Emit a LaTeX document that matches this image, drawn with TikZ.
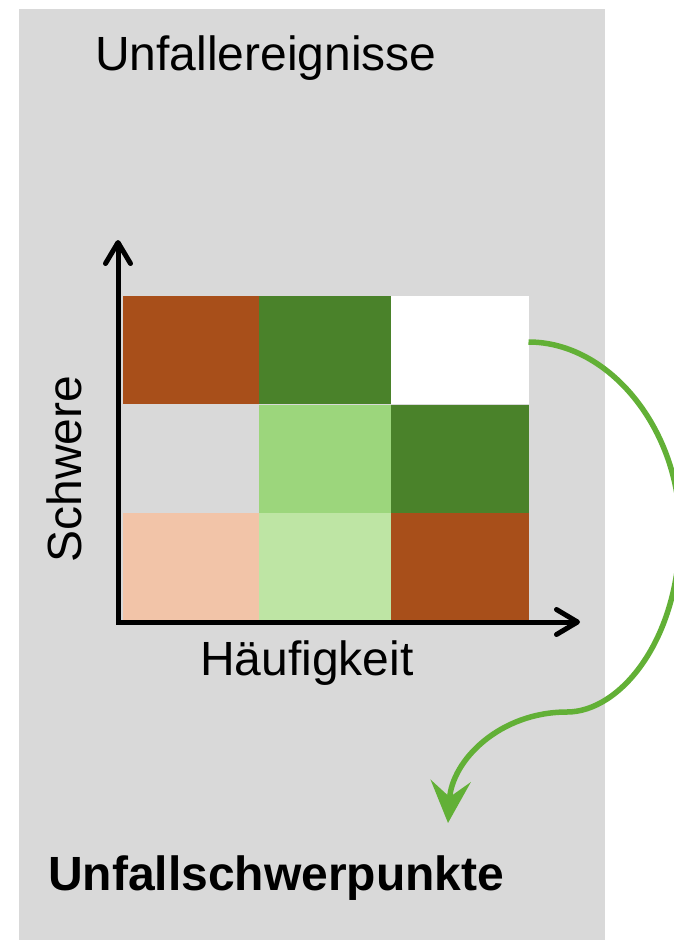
\documentclass[tikz,border=0pt]{standalone}
\usepackage{fontspec}
\setmainfont{Liberation Sans}
\usetikzlibrary{arrows.meta,calc}
\definecolor{panel}{HTML}{D9D9D9}
\definecolor{rust}{HTML}{A84F1A}
\definecolor{darkleaf}{HTML}{4A822A}
\definecolor{midleaf}{HTML}{9CD67C}
\definecolor{paleleaf}{HTML}{BEE5A4}
\definecolor{peach}{HTML}{F2C4A8}
\definecolor{flowgreen}{HTML}{62B036}
\tikzset{
  cell/.style={rectangle, inner sep=0pt, outer sep=0pt, anchor=north west,
    minimum height=108pt},
  label/.style={inner sep=0pt, font=\fontsize{48}{57}\selectfont},
  axis/.style={line width=5pt, line cap=round,
    arrows={Straight Barb[length=21pt,width=25pt,round]-Straight Barb[length=21pt,width=25pt,round]}},
  flow/.style={flowgreen, line width=5.5pt,
    -{Stealth[length=42pt,width=40pt,inset=16pt]}},
}
\begin{document}
\begin{tikzpicture}[x=1pt,y=-1pt]
  \useasboundingbox (0,0) rectangle (673,940);
  % grey panel
  \fill[panel] (18.5,8.5) rectangle (604.5,940);

  \node[label, anchor=base west] (title) at (95,70) {Unfallereignisse};

  % risk matrix cells (columns 1..3, rows top to bottom)
  \node[cell, fill=rust,     minimum width=136.5pt] (c11) at (122.5,296)   {};
  \node[cell, fill=darkleaf, minimum width=132pt]   (c12) at (259,296)     {};
  \node[cell, fill=white,    minimum width=137.5pt] (c13) at (391,296)     {};
  \node[cell, fill=panel,    minimum width=136.5pt] (c21) at (122.5,404.5) {};
  \node[cell, fill=midleaf,  minimum width=132pt]   (c22) at (259,404.5)   {};
  \node[cell, fill=darkleaf, minimum width=137.5pt] (c23) at (391,404.5)   {};
  \node[cell, fill=peach,    minimum width=136.5pt] (c31) at (122.5,512.5) {};
  \node[cell, fill=paleleaf, minimum width=132pt]   (c32) at (259,512.5)   {};
  \node[cell, fill=rust,     minimum width=137.5pt] (c33) at (391,512.5)   {};

  % axes
  \coordinate (origin) at (118,622);
  \coordinate (ytop) at (118,240);
  \coordinate (xend) at (580,622);
  \draw[axis] (ytop) -- (origin) -- (xend);

  \node[label, anchor=base, rotate=90] (ylab) at (81,469) {Schwere};
  \node[label, anchor=base west] (xlab) at (200,675) {Häufigkeit};

  \node[label, anchor=base west, font=\fontsize{48}{57}\selectfont\bfseries]
    (result) at (48,890) {Unfallschwerpunkte};

  % flow from the empty cell down to the result
  \coordinate (tip) at (448,823);
  \draw[flow] ([yshift=8pt]c13.east)
    .. controls (610,342) and (680,430) .. (680,530)
    .. controls (680,640) and (620,712) .. (567,712)
    .. controls (500,712) and (452,760) .. (tip);
\end{tikzpicture}
\end{document}
